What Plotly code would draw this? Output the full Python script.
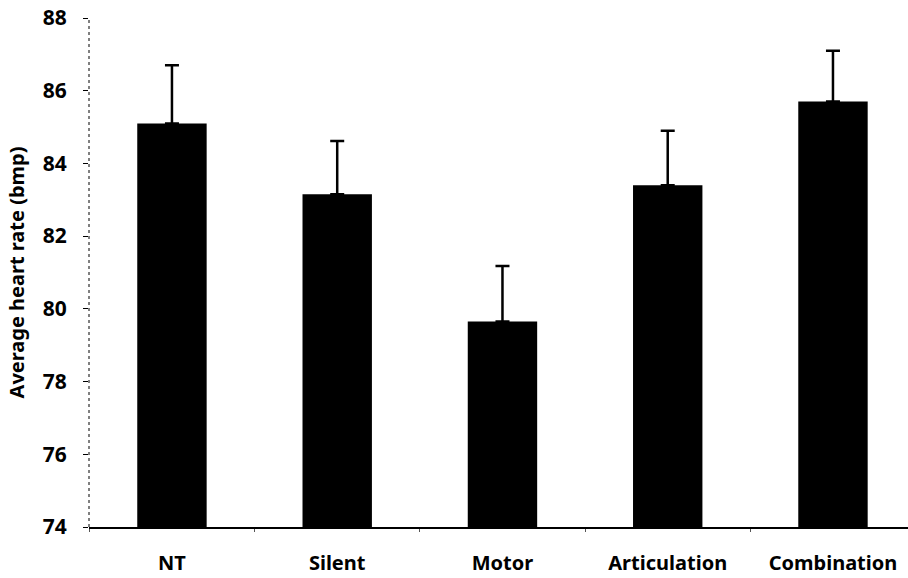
import plotly.graph_objects as go

categories = ["NT", "Silent", "Motor", "Articulation", "Combination"]
means = [85.1, 83.15, 79.65, 83.4, 85.7]
errors = [1.6, 1.47, 1.53, 1.5, 1.4]
y_ticks = [74, 76, 78, 80, 82, 84, 86, 88]

FONT = "Noto Sans"

fig = go.Figure()
fig.add_trace(go.Bar(
    x=categories,
    y=[m - 74 for m in means],
    base=74,
    marker=dict(color="black", line=dict(width=0)),
    error_y=dict(type="data", symmetric=False, array=errors,
                 arrayminus=[0] * len(errors),
                 color="black", thickness=2.5, width=7),
    width=0.42,
))

fig.add_shape(type="line", xref="paper", yref="paper", x0=0, x1=0, y0=0, y1=1,
              line=dict(color="black", width=1, dash="dot"))

fig.add_annotation(
    text="Average heart rate (bmp)", textangle=-90,
    xref="paper", yref="paper", x=-0.088, y=0.5,
    xanchor="center", yanchor="middle", showarrow=False,
    font=dict(family=FONT, size=20, weight="bold", color="black"),
)

fig.update_layout(
    width=908, height=578,
    margin=dict(l=89, r=0, t=18, b=51),
    plot_bgcolor="white", paper_bgcolor="white",
    showlegend=False,
    font=dict(family=FONT, color="black"),
)
fig.update_xaxes(
    range=[-0.502, 4.454],
    showline=True, linecolor="black", linewidth=2,
    ticks="outside", tickson="boundaries", ticklen=3, tickcolor="#555",
    tickwidth=1,
    tickfont=dict(family=FONT, size=20, weight="bold"),
    ticklabelstandoff=17,
    showgrid=False, zeroline=False,
)
fig.update_yaxes(
    range=[74, 88],
    tickvals=y_ticks, ticktext=[str(v) for v in y_ticks],
    ticks="outside", ticklen=5, tickcolor="black", tickwidth=1,
    tickfont=dict(family=FONT, size=21, weight="bold"),
    ticklabelstandoff=12,
    showline=False, showgrid=False, zeroline=False,
)

fig.write_html("out.html")
